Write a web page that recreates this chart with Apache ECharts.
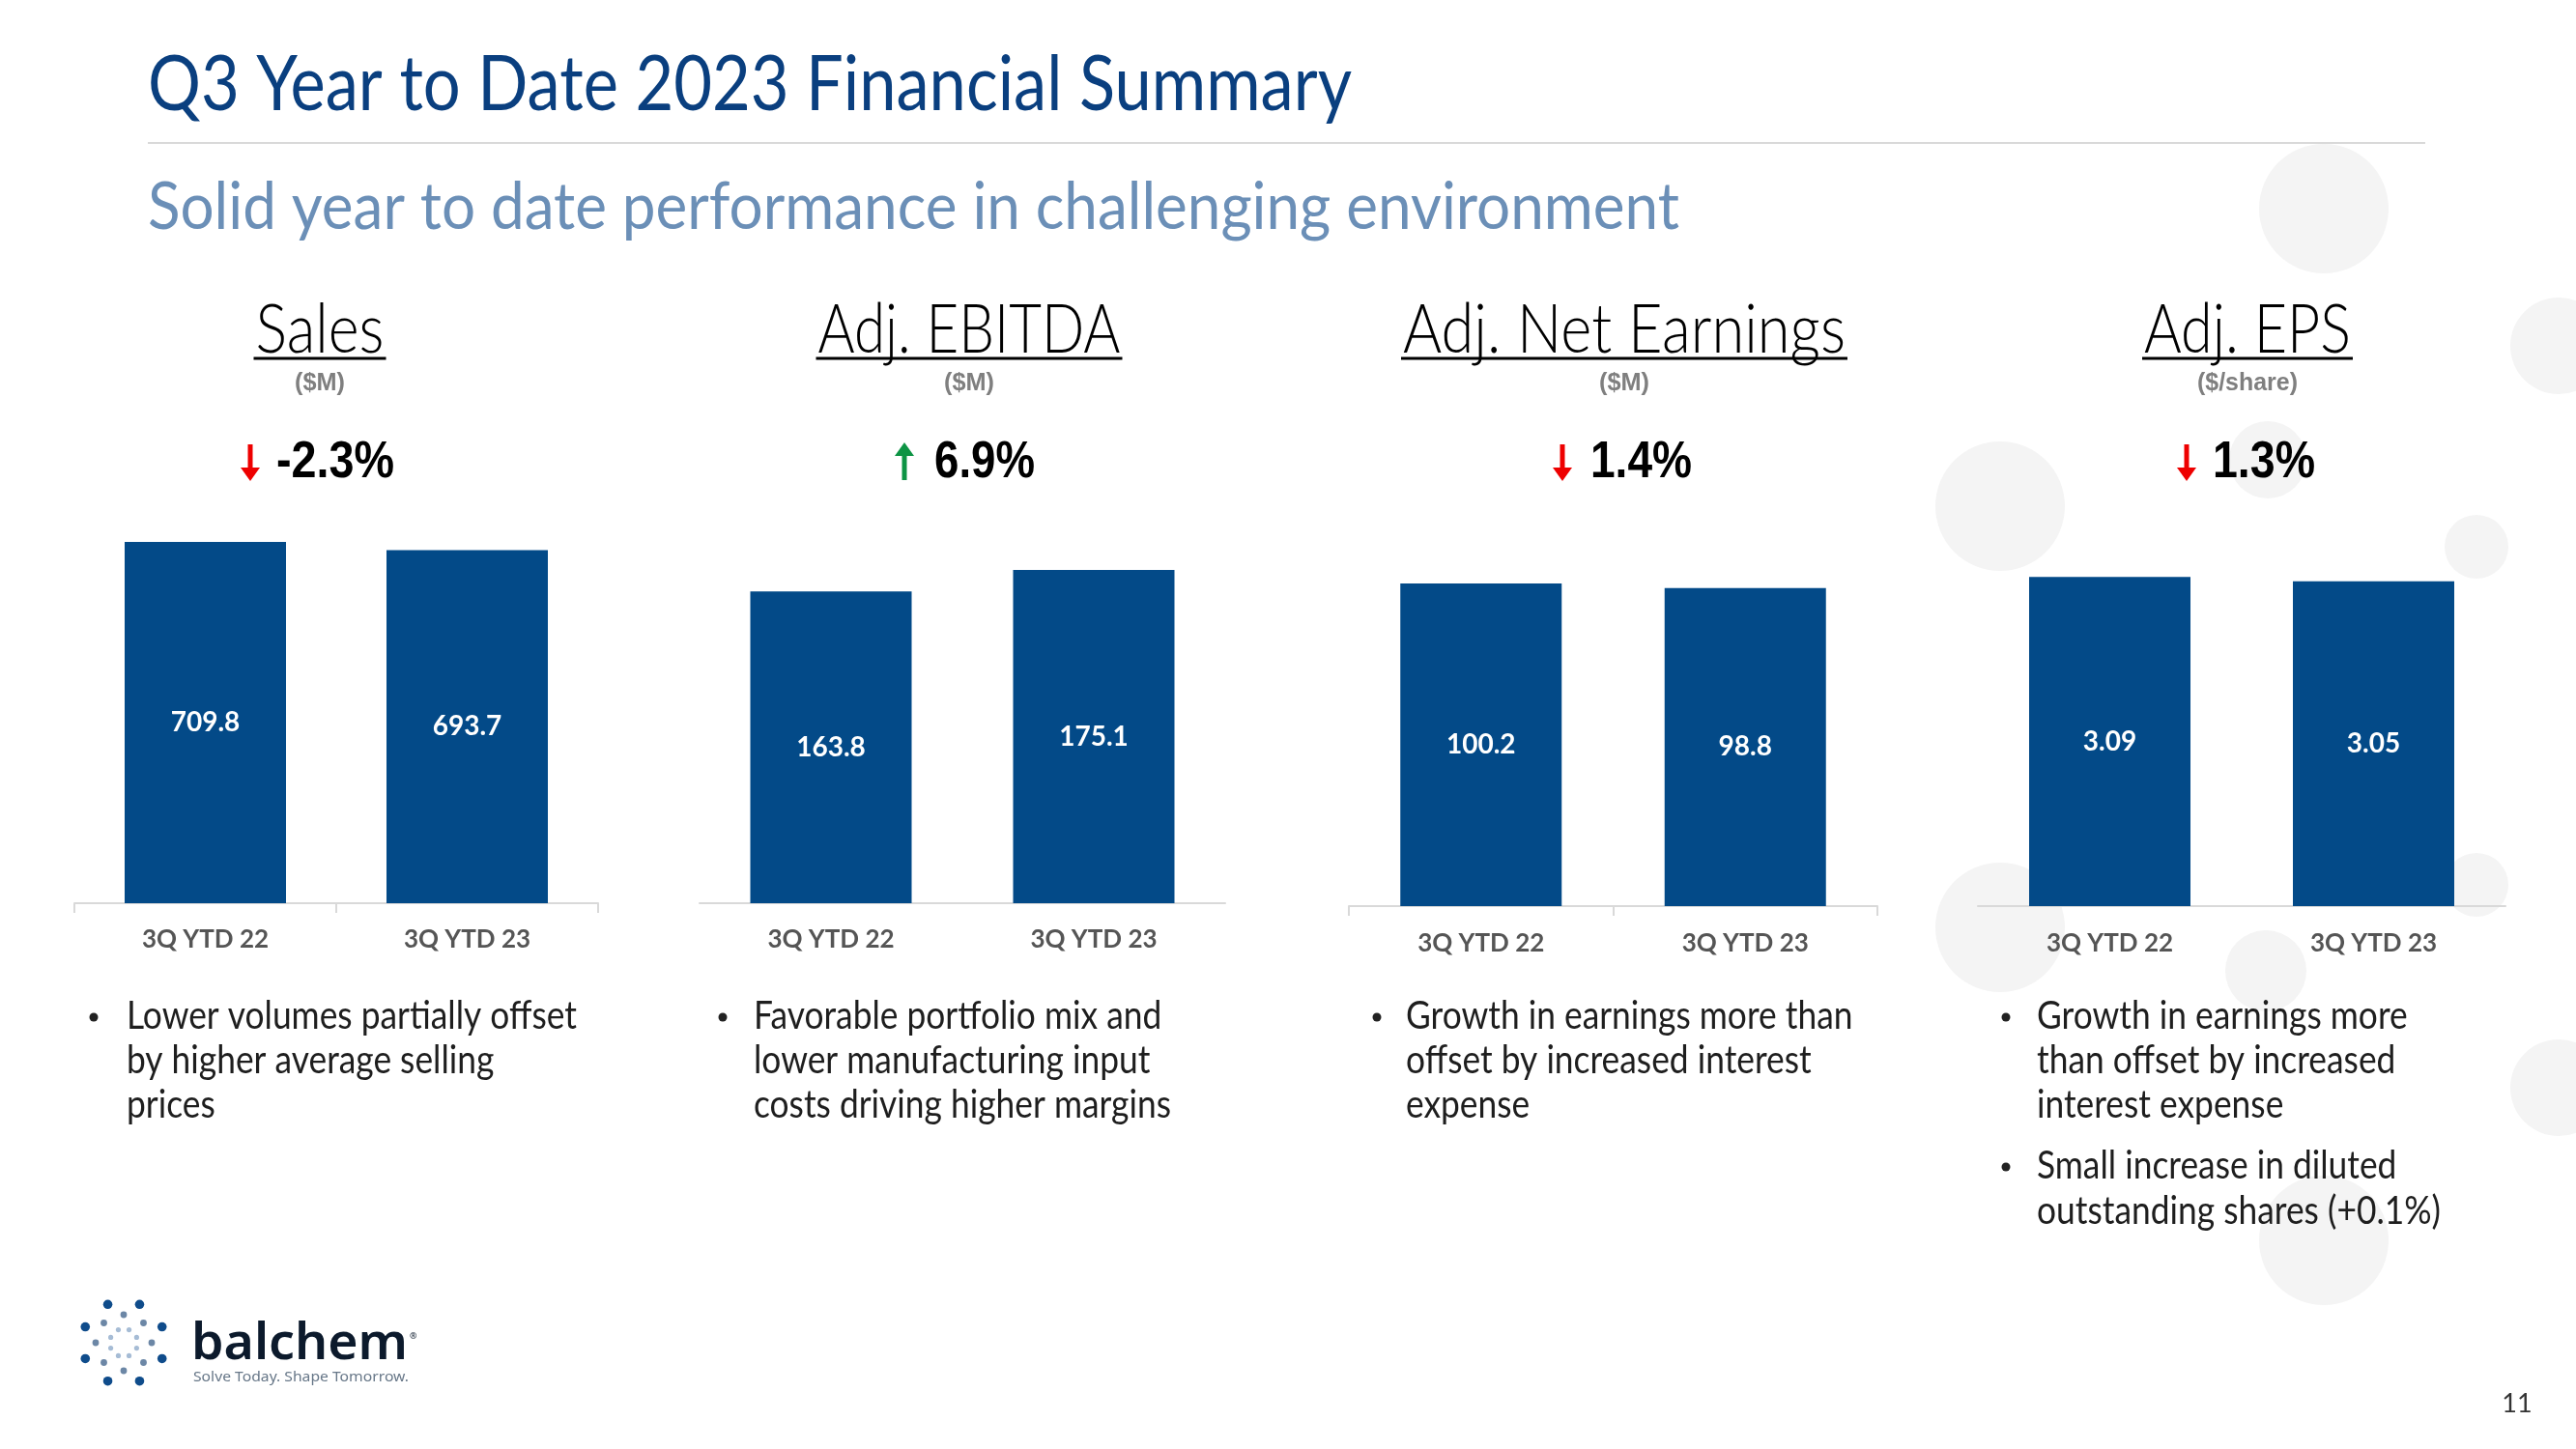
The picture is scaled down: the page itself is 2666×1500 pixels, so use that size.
<!DOCTYPE html>
<html>
<head>
<meta charset="utf-8">
<script src="https://cdn.jsdelivr.net/npm/echarts@6/dist/echarts.min.js"></script>
<style>
  html, body { margin: 0; padding: 0; background: #ffffff; }
  #chart { width: 2666px; height: 1500px; }
</style>
</head>
<body>
<div id="chart"></div>
<script>
// ---------- data ----------
const categories = ['3Q YTD 22', '3Q YTD 23'];
const salesValues = [709.8, 693.7];
const ebitdaValues = [163.8, 175.1];
const netEarningsValues = [100.2, 98.8];
const epsValues = [3.09, 3.05];
const valueDecimals = [1, 1, 1, 2];
const yAxisMax = [800, 200, 120, 3.5];

const slideTitle = 'Q3 Year to Date 2023 Financial Summary';
const slideSubtitle = 'Solid year to date performance in challenging environment';
const panelTitles = ['Sales', 'Adj. EBITDA', 'Adj. Net Earnings', 'Adj. EPS'];
const panelUnits = ['($M)', '($M)', '($M)', '($/share)'];
const changeTexts = ['-2.3%', '6.9%', '1.4%', '1.3%'];
const changeDirections = ['down', 'up', 'down', 'down'];
const panelBullets = [
  [['Lower volumes partially offset', 'by higher average selling', 'prices']],
  [['Favorable portfolio mix and', 'lower manufacturing input', 'costs driving higher margins']],
  [['Growth in earnings more than', 'offset by increased interest', 'expense']],
  [['Growth in earnings more', 'than offset by increased', 'interest expense'],
   ['Small increase in diluted', 'outstanding shares (+0.1%)']]
];
const pageNumber = '11';

const seriesValues = [salesValues, ebitdaValues, netEarningsValues, epsValues];

// ---------- layout (pixels) ----------
const BAR_COLOR = '#034a88';
const gridBoxes = [
  { left: 77,   width: 542, bottom: 935 },
  { left: 724,  width: 544, bottom: 935 },
  { left: 1396, width: 547, bottom: 938 },
  { left: 2047, width: 546, bottom: 938 }
];
const plotHeights = [421.5, 394, 400, 386];
const showTicks = [true, false, true, false];

const headerCenters = [331, 1003, 1681, 2326];
const titleWidths = [133, 313, 458, 214];
const unitWidths = [52, 52, 52, 104];
const arrowX = [259, 936, 1617, 2263];
const changeLeft = [286, 967, 1646, 2290];
const changeWidths = [122, 104, 105, 106];
const bulletDotX = [97, 748, 1425, 2076];
const bulletTextX = [131, 780, 1455, 2108];
const bulletLineY = [[1052, 1098, 1144], [1207, 1254]];

const measureCtx = document.createElement('canvas').getContext('2d');
function fitText(text, x, y, size, family, weight, color, targetW, align) {
  const font = weight + ' ' + size + 'px ' + family;
  measureCtx.font = font;
  const w = measureCtx.measureText(text).width || 1;
  const sx = targetW ? targetW / w : 1;
  return {
    type: 'text', x: x, y: y, scaleX: sx, silent: true, z: 10,
    style: { text: text, font: font, fill: color, textAlign: align || 'left', textVerticalAlign: 'middle' }
  };
}

const LATO = 'Lato, "Open Sans", sans-serif';
const ARIAL = '"Liberation Sans", Arial, sans-serif';
const graphics = [];

// background circles (decoration)
const bgCircles = [
  [2405, 216, 67], [2648, 358, 50], [2070, 524, 67], [2563, 566, 33], [2347, 476, 40],
  [2070, 960, 67], [2563, 916, 33], [2345, 1005, 42], [2648, 1126, 50], [2405, 1284, 67]
];
bgCircles.forEach(c => graphics.push({
  type: 'circle', shape: { cx: c[0], cy: c[1], r: c[2] }, silent: true, z: -10,
  style: { fill: '#f4f4f4' }
}));

// slide title, rule, subtitle
graphics.push(fitText(slideTitle, 153, 88, 80, LATO, 'normal', '#0a3f7f', 1246));
graphics.push({ type: 'line', shape: { x1: 153, y1: 148, x2: 2510, y2: 148 }, silent: true,
  style: { stroke: '#d9d9d9', lineWidth: 2 } });
graphics.push(fitText(slideSubtitle, 153, 215, 68, LATO, 'normal', '#6b8fb7', 1585));

// panel headers
for (let i = 0; i < 4; i++) {
  const cx = headerCenters[i];
  graphics.push(fitText(panelTitles[i], cx, 342, 71, LATO, 300, '#000000', titleWidths[i], 'center'));
  graphics.push({ type: 'line', silent: true,
    shape: { x1: cx - titleWidths[i] / 2 - 2, y1: 371, x2: cx + titleWidths[i] / 2 + 2, y2: 371 },
    style: { stroke: '#000000', lineWidth: 3 } });
  graphics.push(fitText(panelUnits[i], cx, 397, 25, ARIAL, 'bold', '#7f7f7f', unitWidths[i], 'center'));
  // change arrow
  const ax = arrowX[i];
  const color = changeDirections[i] === 'down' ? '#ee0000' : '#0d9444';
  if (changeDirections[i] === 'down') {
    graphics.push({ type: 'rect', silent: true, shape: { x: ax - 2.5, y: 460, width: 5, height: 26 }, style: { fill: color } });
    graphics.push({ type: 'polygon', silent: true, shape: { points: [[ax - 10, 484], [ax + 10, 484], [ax, 498]] }, style: { fill: color } });
  } else {
    graphics.push({ type: 'rect', silent: true, shape: { x: ax - 2.5, y: 470, width: 5, height: 27 }, style: { fill: color } });
    graphics.push({ type: 'polygon', silent: true, shape: { points: [[ax - 10, 472], [ax + 10, 472], [ax, 458]] }, style: { fill: color } });
  }
  graphics.push(fitText(changeTexts[i], changeLeft[i], 479, 54, ARIAL, 'bold', '#000000', changeWidths[i], 'left'));
}

// bullets
measureCtx.font = 'normal 40px ' + LATO;
const bulletScale = 466 / measureCtx.measureText(panelBullets[0][0][0]).width;
for (let i = 0; i < 4; i++) {
  panelBullets[i].forEach((bullet, b) => {
    const ys = bulletLineY[b];
    graphics.push({ type: 'circle', silent: true, shape: { cx: bulletDotX[i], cy: ys[0] + 1, r: 4.5 }, style: { fill: '#222222' } });
    bullet.forEach((line, k) => {
      const t = fitText(line, bulletTextX[i], ys[k], 40, LATO, 'normal', '#1e1e1e', null, 'left');
      t.scaleX = bulletScale;
      graphics.push(t);
    });
  });
}

// logo (decoration)
const logoC = [128, 1390];
for (let k = 0; k < 8; k++) {
  const a1 = (22.5 + k * 45) * Math.PI / 180;
  graphics.push({ type: 'circle', silent: true, shape: { cx: logoC[0] + 43 * Math.sin(a1), cy: logoC[1] - 43 * Math.cos(a1), r: 4.8 }, style: { fill: '#0f4c8b' } });
  const a2 = (k * 45) * Math.PI / 180;
  graphics.push({ type: 'circle', silent: true, shape: { cx: logoC[0] + 29 * Math.sin(a2), cy: logoC[1] - 29 * Math.cos(a2), r: 3.4 }, style: { fill: '#6c87a6' } });
  graphics.push({ type: 'circle', silent: true, shape: { cx: logoC[0] + 14.5 * Math.sin(a1), cy: logoC[1] - 14.5 * Math.cos(a1), r: 2.6 }, style: { fill: '#a6bcd5' } });
}
graphics.push(fitText('balchem', 198, 1392, 52, '"Noto Sans", sans-serif', 600, '#0c1a2c', 224, 'left'));
graphics.push(fitText('®', 424, 1383, 9, '"Noto Sans", sans-serif', 'normal', '#0c1a2c', null, 'left'));
graphics.push(fitText('Solve Today. Shape Tomorrow.', 200, 1426, 15, '"Noto Sans", sans-serif', 'normal', '#677788', 223, 'left'));

// page number
graphics.push(fitText(pageNumber, 2605, 1453, 27, LATO, 'normal', '#333333', null, 'center'));

// ---------- charts ----------
const grids = [], xAxes = [], yAxes = [], series = [];
for (let i = 0; i < 4; i++) {
  const g = gridBoxes[i];
  grids.push({ left: g.left, width: g.width, top: g.bottom - plotHeights[i], height: plotHeights[i], containLabel: false });
  xAxes.push({
    type: 'category', gridIndex: i, data: categories,
    axisLine: { show: true, lineStyle: { color: '#d9d9d9', width: 2 } },
    axisTick: { show: showTicks[i], length: 10, lineStyle: { color: '#d9d9d9', width: 2 } },
    axisLabel: { color: '#555555', fontFamily: LATO, fontWeight: 'bold', fontSize: 26, margin: i < 2 ? 25 : 26 }
  });
  yAxes.push({
    type: 'value', gridIndex: i, min: 0, max: yAxisMax[i], show: false,
    splitLine: { show: false }
  });
  const dec = valueDecimals[i];
  series.push({
    type: 'bar', xAxisIndex: i, yAxisIndex: i, data: seriesValues[i],
    barWidth: 167, z: 2,
    itemStyle: { color: BAR_COLOR },
    label: {
      show: true, position: 'inside', color: '#ffffff', fontFamily: LATO, fontWeight: 'bold', fontSize: 28,
      formatter: p => Number(p.value).toFixed(dec)
    },
    emphasis: { disabled: true },
    animation: false
  });
}

const chart = echarts.init(document.getElementById('chart'), null, { renderer: 'canvas' });
chart.setOption({
  backgroundColor: '#ffffff',
  animation: false,
  grid: grids,
  xAxis: xAxes,
  yAxis: yAxes,
  series: series,
  graphic: { elements: graphics }
});
</script>
</body>
</html>
